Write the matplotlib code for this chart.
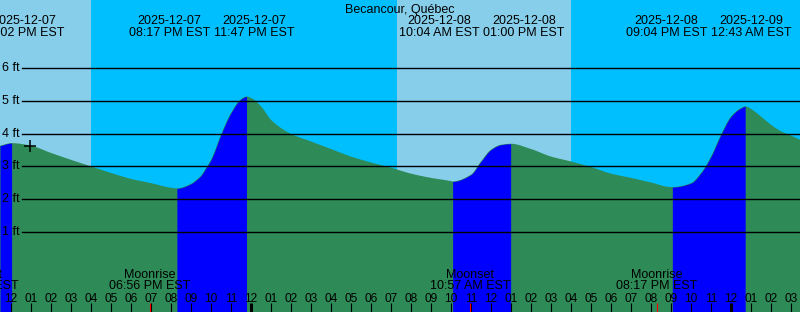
import matplotlib
matplotlib.use("Agg")
import matplotlib.pyplot as plt
import matplotlib.transforms as mtransforms
import numpy as np
import pandas as pd

# ---------------- data ----------------
title = "Becancour, Québec"
start = pd.Timestamp("2025-12-07 12:00")      # time origin (hour 0)

# tide curve readings: hours since start, height (ft)
tide_hours = [-0.55, 0.033, 1, 2, 3, 4, 5, 6, 7, 8, 8.283, 9, 9.25, 9.5, 9.75, 10,
              10.5, 11, 11.5, 11.783, 12, 12.5, 13, 13.5, 14, 15, 16, 17, 18, 19,
              20, 21, 22, 22.067, 23, 23.5, 24, 24.5, 25, 26, 27, 28, 29, 30, 31,
              32, 33, 33.067, 34, 34.5, 35, 35.5, 36, 36.5, 36.717, 37, 37.5, 38,
              38.5, 39, 39.45]
tide_heights = [3.63, 3.71, 3.63, 3.41, 3.20, 3.00, 2.80, 2.62, 2.49, 2.35, 2.33, 2.47,
                2.58, 2.72, 2.95, 3.20, 3.97, 4.63, 5.05, 5.13, 5.09, 4.83, 4.42, 4.17,
                3.99, 3.76, 3.53, 3.30, 3.12, 2.96, 2.78, 2.65, 2.55, 2.54, 2.75, 3.15,
                3.51, 3.66, 3.69, 3.53, 3.30, 3.15, 2.98, 2.78, 2.65, 2.51, 2.37, 2.37,
                2.49, 2.80, 3.30, 3.97, 4.52, 4.78, 4.83, 4.75, 4.52, 4.27, 4.07, 3.94,
                3.81]

# tide extremes (high/low) labelled at the top
extreme_times = ["2025-12-07 12:02", "2025-12-07 20:17", "2025-12-07 23:47",
                 "2025-12-08 10:04", "2025-12-08 13:00", "2025-12-08 21:04",
                 "2025-12-09 00:43"]
extreme_labels = ["2025-12-07\n12:02 PM EST", "2025-12-07\n08:17 PM EST",
                  "2025-12-07\n11:47 PM EST", "2025-12-08\n10:04 AM EST",
                  "2025-12-08\n01:00 PM EST", "2025-12-08\n09:04 PM EST",
                  "2025-12-09\n12:43 AM EST"]
extreme_kind = ["H", "L", "H", "L", "H", "L", "H"]

# sun: sunset / sunrise
sun_times = ["2025-12-07 16:00", "2025-12-08 07:17", "2025-12-08 16:00"]

# moon events
moon_times = ["2025-12-07 10:21", "2025-12-07 18:56", "2025-12-08 10:57", "2025-12-08 20:17"]
moon_names = ["Moonset", "Moonrise", "Moonset", "Moonrise"]
moon_labels = ["10:21 AM EST", "06:56 PM EST", "10:57 AM EST", "08:17 PM EST"]

now_time = "2025-12-07 12:57"
now_height = 3.62
ft_levels = [1, 2, 3, 4, 5, 6]

# ---------------- helpers ----------------
def hrs(s):
    return (pd.Timestamp(s) - start).total_seconds() / 3600.0


def pchip(x, y, xn):
    """Monotone cubic curve through the readings (for smooth drawing)."""
    x = np.asarray(x, float)
    y = np.asarray(y, float)
    hstep = np.diff(x)
    delta = np.diff(y) / hstep
    n = len(x)
    d = np.zeros(n)
    for k in range(1, n - 1):
        if delta[k - 1] * delta[k] > 0:
            w1 = 2 * hstep[k] + hstep[k - 1]
            w2 = hstep[k] + 2 * hstep[k - 1]
            d[k] = (w1 + w2) / (w1 / delta[k - 1] + w2 / delta[k])
    d[0] = delta[0]
    d[-1] = delta[-1]
    idx = np.clip(np.searchsorted(x, xn) - 1, 0, n - 2)
    hh = hstep[idx]
    s = (xn - x[idx]) / hh
    h00 = 2 * s**3 - 3 * s**2 + 1
    h10 = s**3 - 2 * s**2 + s
    h01 = -2 * s**3 + 3 * s**2
    h11 = s**3 - s**2
    return h00 * y[idx] + h10 * hh * d[idx] + h01 * y[idx + 1] + h11 * hh * d[idx + 1]


W, H = 800, 312
x0, x1 = -0.55, 39.45
y0, y1 = -1.439, 8.073

DAY = "#87CEEB"
NIGHT = "#00BFFF"
GREEN = "#2E8B57"
BLUE = "#0000FF"
FONT = "Liberation Sans"

fig = plt.figure(figsize=(W / 100, H / 100), dpi=100)
ax = fig.add_axes([0, 0, 1, 1])
ax.set_xlim(x0, x1)
ax.set_ylim(y0, y1)
ax.axis("off")


def fy(py):  # pixel-from-top -> axes fraction
    return (H - py) / H


def fx(px):
    return px / W


# sky
sun_h = [hrs(s) for s in sun_times]
edges = [x0] + sun_h + [x1]
for i in range(len(edges) - 1):
    ax.axvspan(edges[i], edges[i + 1], color=DAY if i % 2 == 0 else NIGHT, lw=0, zorder=0)

# tide
tn = np.linspace(x0, x1, 2000)
hn = pchip(tide_hours, tide_heights, tn)
ax.fill_between(tn, hn, y0, color=GREEN, lw=0, zorder=1)

ext_h = [hrs(s) for s in extreme_times]
bounds = [x0] + ext_h
kinds = ["L"] + extreme_kind
for i in range(len(bounds) - 1):
    if kinds[i] == "L" and kinds[i + 1] == "H":
        m = (tn >= bounds[i]) & (tn <= bounds[i + 1])
        ax.fill_between(tn[m], hn[m], y0, color=BLUE, lw=0, zorder=2)

# ft lines and labels
blend = mtransforms.blended_transform_factory(ax.transAxes, ax.transData)
for lv in ft_levels:
    ax.axhline(lv, xmin=fx(22), xmax=1, color="black", lw=1.0, zorder=3)
    ax.text(fx(2.5), lv, f"{lv} ft", transform=blend, ha="left", va="center",
            fontsize=9, family=FONT, color="black", zorder=4)

# now marker
ax.plot([hrs(now_time)], [now_height], marker="+", ms=8, mew=1.1, color="black", zorder=5)

# title
ax.text(0.5, fy(12.5), title, transform=ax.transAxes, ha="center", va="baseline",
        fontsize=9, family=FONT, color="black", zorder=6)

# extreme labels, spread to avoid overlap
px_per_h = W / (x1 - x0)
cx = [(e - x0) * px_per_h for e in ext_h]
lw_px = 85.0
for i in range(1, len(cx) - 1):
    gap = cx[i + 1] - cx[i]
    if gap < lw_px:
        push = (lw_px - gap) / 2
        cx[i] -= push
        cx[i + 1] += push
cx[0] = max(cx[0], 24)
for c, lab in zip(cx, extreme_labels):
    d, tm = lab.split("\n")
    ax.text(fx(c), fy(24), d, transform=ax.transAxes, ha="center", va="baseline",
            fontsize=9, family=FONT, color="black", zorder=6)
    ax.text(fx(c), fy(36.5), tm, transform=ax.transAxes, ha="center", va="baseline",
            fontsize=9, family=FONT, color="black", zorder=6)

# hour ticks and labels
bt = mtransforms.blended_transform_factory(ax.transData, ax.transAxes)
for k in range(0, 40):
    hour = (12 + k) % 12
    hour = 12 if hour == 0 else hour
    midnight = ((12 + k) % 24) == 0
    ax.plot([k, k], [0, 9.5 / H], transform=bt, color="black",
            lw=2.2 if midnight else 0.8, solid_capstyle="butt", zorder=6)
    ax.text(k, fy(301.7), f"{hour:02d}", transform=bt, ha="center", va="baseline",
            fontsize=8.6, family=FONT, color="black", zorder=6)

# moon events
for mt, nm, lab in zip(moon_times, moon_names, moon_labels):
    m = hrs(mt)
    ax.plot([m, m], [0, 9.5 / H], transform=bt, color="red", lw=0.8,
            solid_capstyle="butt", zorder=7)
    ax.text(m, fy(278.3), nm, transform=bt, ha="center", va="baseline",
            fontsize=9, family=FONT, color="black", zorder=6)
    ax.text(m, fy(289.3), lab, transform=bt, ha="center", va="baseline",
            fontsize=9, family=FONT, color="black", zorder=6)

fig.savefig("out.png", dpi=100)
